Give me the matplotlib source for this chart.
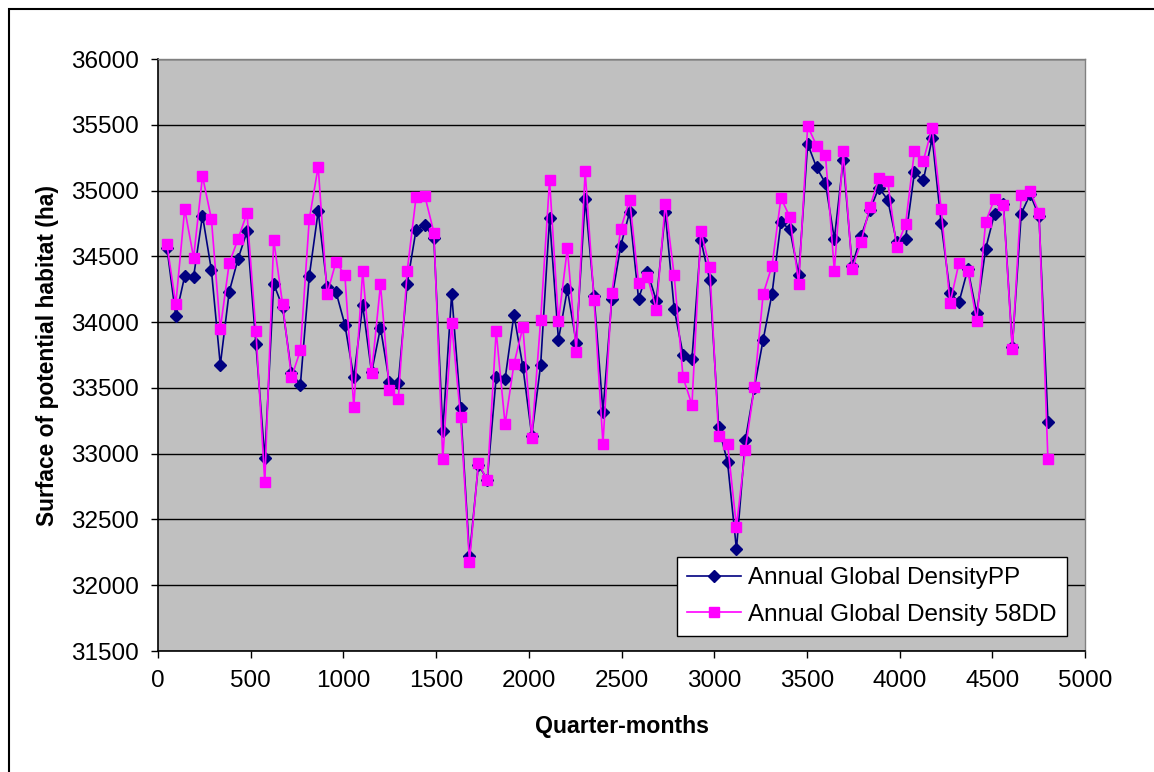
import matplotlib
matplotlib.use("Agg")
import matplotlib.pyplot as plt
from matplotlib.patches import Rectangle

plt.rcParams['font.family'] = ['Liberation Sans', 'DejaVu Sans']

# quarter-month index of each annual point
quarter_months = [48 * k for k in range(1, 101)]

density_pp = [
    34567, 34044, 34350, 34345, 34809, 34396, 33674, 34230, 34482, 34689,
    33837, 32965, 34291, 34115, 33613, 33524, 34350, 34842, 34268, 34230,
    33980, 33580, 34128, 33618, 33957, 33541, 33536, 34291, 34702, 34735,
    34638, 33172, 34217, 33348, 32220, 32917, 32802, 33580, 33567, 34057,
    33661, 33138, 33676, 34791, 33865, 34250, 33842, 34936, 34199, 33320,
    34179, 34582, 34837, 34177, 34383, 34161, 34834, 34102, 33753, 33720,
    34625, 34319, 33202, 32935, 32274, 33103, 33498, 33865, 34217, 34760,
    34705, 34358, 35355, 35176, 35056, 34633, 35232, 34429, 34653, 34850,
    35023, 34929, 34608, 34633, 35138, 35079, 35398, 34750, 34225, 34150,
    34404, 34067, 34557, 34824, 34901, 33812, 34824, 34972, 34806, 33243,
]

density_58dd = [
    34592, 34136, 34860, 34490, 35110, 34783, 33949, 34447, 34633, 34829,
    33932, 32781, 34625, 34136, 33580, 33786, 34783, 35181, 34212, 34459,
    34357, 33355, 34388, 33610, 34286, 33485, 33414, 34388, 34950, 34955,
    34681, 32960, 33990, 33281, 32180, 32929, 32797, 33932, 33223, 33682,
    33962, 33121, 34018, 35079, 34005, 34561, 33771, 35148, 34166, 33075,
    34225, 34709, 34931, 34299, 34345, 34095, 34901, 34357, 33580, 33371,
    34694, 34416, 33133, 33077, 32445, 33031, 33503, 34212, 34429, 34944,
    34799, 34289, 35490, 35342, 35273, 34391, 35299, 34404, 34610, 34875,
    35092, 35069, 34569, 34743, 35299, 35227, 35477, 34862, 34143, 34449,
    34391, 34008, 34761, 34939, 34888, 33792, 34965, 34998, 34832, 32958,
]

series_labels = ["Annual Global DensityPP", "Annual Global Density 58DD"]
x_ticks = list(range(0, 5001, 500))
y_ticks = list(range(31500, 36001, 500))

W, H = 1154, 772
fig = plt.figure(figsize=(W / 100, H / 100), dpi=100)
fig.patch.set_facecolor('white')

# outer chart border (left and top visible)
fig.patches.append(Rectangle((8.5 / W, -0.2), 1.5, (H - 8.5) / H + 0.2,
                             transform=fig.transFigure, fill=False,
                             edgecolor='black', linewidth=1.5, clip_on=False))

l, r, t, b = 158, 1085, 59, 651
ax = fig.add_axes([l / W, (H - b) / H, (r - l) / W, (b - t) / H])
ax.set_facecolor('#C0C0C0')

ax.plot(quarter_months, density_pp, color='#000080', linewidth=1.2,
        marker='D', markersize=6, markerfacecolor='#000080',
        markeredgecolor='#000080', label=series_labels[0], zorder=3)
ax.plot(quarter_months, density_58dd, color='#FF00FF', linewidth=1.2,
        marker='s', markersize=7, markerfacecolor='#FF00FF',
        markeredgecolor='#FF00FF', label=series_labels[1], zorder=4)

ax.set_xlim(0, 5000)
ax.set_ylim(31500, 36000)
ax.set_xticks(x_ticks)
ax.set_yticks(y_ticks)
ax.yaxis.grid(True, color='black', linewidth=1.0)
ax.set_axisbelow(True)

ax.tick_params(axis='both', direction='out', length=5, width=1,
               labelsize=17.5, color='black')
ax.tick_params(axis='y', pad=9)
ax.tick_params(axis='x', pad=9)

for s in ['left', 'bottom']:
    ax.spines[s].set_color('black')
    ax.spines[s].set_linewidth(1.2)
for s in ['top', 'right']:
    ax.spines[s].set_color('#808080')
    ax.spines[s].set_linewidth(1.0)

ax.set_xlabel('Quarter-months', fontsize=16.7, fontweight='bold', labelpad=16.5)
ax.set_ylabel('Surface of potential habitat (ha)', fontsize=16.4,
              fontweight='bold', labelpad=8.5)

leg = ax.legend(loc='lower left', bbox_to_anchor=(0.56, 0.0253),
                borderaxespad=0, fontsize=17.5, fancybox=False, shadow=False,
                framealpha=1, edgecolor='black', handlelength=2.2,
                handletextpad=0.3, borderpad=0.42, labelspacing=0.6)
leg.get_frame().set_linewidth(1.0)

fig.savefig('out.png', dpi=100, facecolor='white')
